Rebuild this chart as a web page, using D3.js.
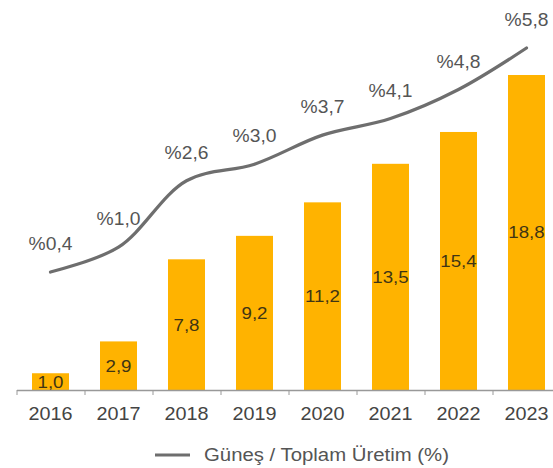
<!DOCTYPE html>
<html>
<head>
<meta charset="utf-8">
<script src="https://cdn.jsdelivr.net/npm/d3@7"></script>
<style>
  html, body { margin: 0; padding: 0; background: #fff; }
  svg { display: block; font-family: "Liberation Sans", Arial, sans-serif; }
</style>
</head>
<body>
<svg id="chart" width="553" height="468"></svg>
<script>
// Yearly solar generation (TWh) and its share of total generation (%)
const years = ["2016", "2017", "2018", "2019", "2020", "2021", "2022", "2023"];
const generation = [1.0, 2.9, 7.8, 9.2, 11.2, 13.5, 15.4, 18.8];
const share = [0.4, 1.0, 2.6, 3.0, 3.7, 4.1, 4.8, 5.8];
const legendLabel = "Güneş / Toplam Üretim (%)";

const svg = d3.select("#chart");
const W = 553, H = 468;
const stretch = 1.1; // text is set slightly wide
svg.append("rect").attr("width", W).attr("height", H).attr("fill", "#fff");

const fmt = v => d3.format(".1f")(v).replace(".", ",");

const x = d3.scaleBand().domain(years).range([16.5, 560.5])
  .paddingInner(0.456).paddingOuter(0.228);
const yBar = d3.scaleLinear().domain([0, 20]).range([390, 54.9]);
const yLine = d3.scaleLinear().domain([0, 6]).range([288.6, 39.7]);

// bars
svg.append("g").selectAll("rect").data(years).join("rect")
  .attr("x", d => x(d))
  .attr("width", x.bandwidth())
  .attr("y", (d, i) => yBar(generation[i]))
  .attr("height", (d, i) => yBar(0) - yBar(generation[i]))
  .attr("fill", "#FFB300");

// bar value labels
svg.append("g").selectAll("text").data(years).join("text")
  .attr("transform", (d, i) => `translate(${x(d) + x.bandwidth() / 2},${(yBar(generation[i]) + yBar(0)) / 2}) scale(${stretch},1)`)
  .attr("dy", "0.35em")
  .attr("text-anchor", "middle")
  .attr("font-size", 17)
  .attr("fill", "#3f3514")
  .text((d, i) => fmt(generation[i]));

// x axis: boundary ticks and year labels
const bounds = d3.scaleLinear().domain([0, years.length]).range([16.5, 16.5 + x.step() * years.length]);
const tickAxis = svg.append("g").attr("transform", "translate(0,390)")
  .call(d3.axisBottom(bounds).tickValues(d3.range(0, years.length + 1)).tickFormat("").tickSize(5).tickSizeOuter(0));
tickAxis.select(".domain").attr("stroke", "#999").attr("stroke-width", 1.5);
tickAxis.selectAll(".tick line").attr("stroke", "#999");

const yearAxis = svg.append("g").attr("transform", "translate(0,390)")
  .call(d3.axisBottom(x).tickSize(0).tickPadding(17));
yearAxis.select(".domain").remove();
yearAxis.selectAll("text")
  .attr("transform", `scale(${stretch},1)`)
  .attr("font-size", 18)
  .attr("font-family", "Liberation Sans, Arial, sans-serif")
  .attr("fill", "#444");

// share line
const pts = years.map((d, i) => [x(d) + x.bandwidth() / 2, yLine(share[i])]);
svg.append("path")
  .attr("d", d3.line().curve(d3.curveCatmullRom.alpha(0.5))(pts))
  .attr("fill", "none")
  .attr("stroke", "#6e6e6e")
  .attr("stroke-width", 3.2)
  .attr("stroke-linecap", "round");

// share labels
svg.append("g").selectAll("text").data(years).join("text")
  .attr("transform", (d, i) => `translate(${pts[i][0]},${pts[i][1] - 28}) scale(${stretch},1)`)
  .attr("dy", "0.35em")
  .attr("text-anchor", "middle")
  .attr("font-size", 17.5)
  .attr("fill", "#555")
  .text((d, i) => "%" + fmt(share[i]));

// legend
const lg = svg.append("g");
lg.append("line").attr("x1", 155).attr("x2", 190).attr("y1", 455).attr("y2", 455)
  .attr("stroke", "#6e6e6e").attr("stroke-width", 3);
lg.append("text").attr("transform", `translate(204,455) scale(${stretch},1)`).attr("dy", "0.35em")
  .attr("font-size", 18.5).attr("fill", "#555").text(legendLabel);
</script>
</body>
</html>
